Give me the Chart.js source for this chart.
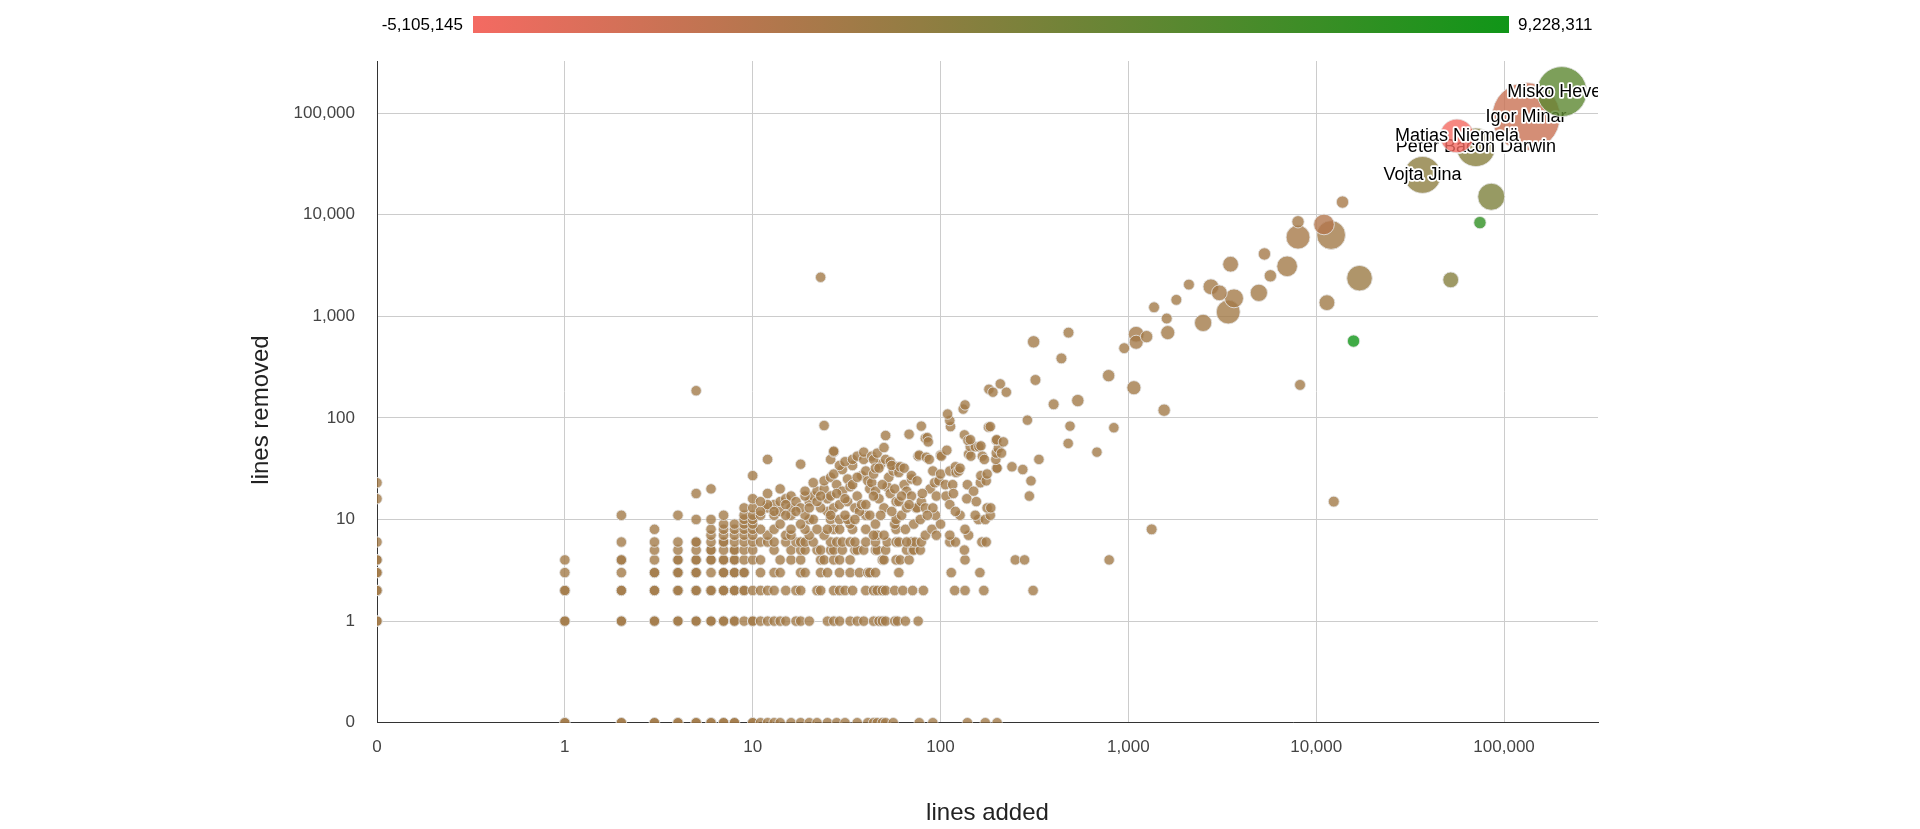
<!DOCTYPE html>
<html>
<head>
<meta charset="utf-8">
<title>lines added vs lines removed</title>
<script src="https://cdn.jsdelivr.net/npm/chart.js@4.4.1/dist/chart.umd.min.js"></script>
<style>
  html, body { margin: 0; padding: 0; background: #ffffff; }
  #wrap { width: 1920px; height: 829px; }
</style>
</head>
<body>
<div id="wrap"><canvas id="chart" width="1920" height="829"></canvas></div>
<script>
  "use strict";

  // Contributors with their own bubble size / colour (commits -> size, score -> colour)
  const contributorNames = ["Misko Hevery", "Igor Minar", "Matias Niemelä", "Peter Bacon Darwin", "Vojta Jina",
    "", "", "", "", "", "", "", "", "", "", "", "", "", "", "", "", "", "", "", "",
    "", "", "", "", "", "", "", "", "", "", "", "", "", "", "", "", "", "", "", "", "", ""];
  const contributorAdded = [203000, 131000, 56100, 70800, 36800, 85500, 74400, 52000, 15800, 13800,
    8000, 11000, 8000, 12000, 5300, 3500, 7000, 5700, 17000, 2100, 2750, 3050, 3650, 4950, 1800,
    1370, 3400, 11400, 1600, 2500, 1100, 1250, 1100, 1620, 950, 480, 313, 440, 785, 320, 1070,
    538, 400, 1550, 8200, 12400, 1330];
  const contributorRemoved = [162500, 92200, 59500, 46000, 24600, 15000, 8340, 2280, 570, 13300,
    8500, 8000, 6000, 6300, 4100, 3250, 3100, 2500, 2370, 2050, 1950, 1700, 1500, 1700, 1450,
    1225, 1100, 1360, 950, 860, 665, 630, 555, 690, 485, 690, 560, 385, 260, 236, 198,
    148, 136, 119, 211, 15, 8];
  const contributorCommits = [1030, 1500, 606, 734, 689, 434, 51, 140, 51, 51,
    51, 268, 351, 478, 51, 140, 268, 51, 395, 13, 140, 140, 223, 179, 13,
    13, 351, 140, 13, 179, 140, 51, 96, 96, 13, 13, 51, 13, 51, 13, 96,
    51, 13, 51, 13, 13, 13];
  const contributorScore = [4400000, -2400000, -5105145, 1700000, 1350000, 2350000, 7150000, 1800000, 9228311, -300000,
    -100000, -1000000, -200000, 0, -150000, -100000, 0, 0, 500000, -50000, -50000, -100000, -50000, 0, 0,
    0, 50000, 200000, 0, 0, -80000, 0, -60000, 0, 0, 0, 0, 0, 0, 0, 0,
    0, 0, 0, 0, 0, 0];

  // One-off contributors (smallest bubbles), grouped by lines removed: values are lines added
  const rowRemoved0 = [1, 1, 2, 2, 3, 3, 4, 4, 5, 5, 6, 6, 7, 7, 8, 8, 10, 10, 11, 12, 13, 14, 16, 18, 20, 22, 25, 28,
    31, 36, 41, 44, 46, 49, 51, 56, 77, 91, 139, 173, 200];
  const rowRemoved1 = [0, 0, 1, 1, 2, 2, 3, 3, 4, 4, 5, 5, 6, 6, 7, 7, 8, 8, 9, 10, 10, 11, 12, 13, 14, 15, 17, 18, 20,
    25, 27, 29, 33, 36, 39, 44, 47, 49, 51, 57, 59, 65, 76];
  const rowRemoved2 = [0, 0, 1, 1, 2, 2, 3, 3, 4, 4, 5, 5, 6, 6, 7, 7, 8, 8, 9, 9, 10, 11, 12, 13, 15, 17, 18, 22, 23,
    27, 29, 31, 34, 40, 44, 46, 49, 51, 57, 63, 71, 81, 119, 135, 170, 311];
  const rowRemoved3 = [0, 0, 1, 2, 3, 3, 4, 4, 5, 5, 6, 7, 7, 8, 8, 9, 9, 11, 13, 14, 18, 19, 23, 25, 29, 33, 37, 41,
    42, 45, 60, 114, 162];
  const rowRemoved4 = [0, 0, 1, 2, 2, 3, 4, 4, 5, 5, 6, 6, 7, 7, 8, 8, 9, 10, 11, 14, 16, 18, 23, 24, 27, 29, 33, 49,
    50, 58, 61, 68, 135, 250, 280, 790];
  const rowRemoved5 = [3, 4, 5, 6, 6, 7, 8, 8, 9, 10, 13, 16, 18, 19, 22, 23, 26, 27, 30, 35, 36, 39, 45, 46, 51, 66,
    71, 72, 78, 134];
  const rowRemoved6 = [0, 2, 3, 4, 5, 5, 6, 7, 7, 8, 9, 10, 11, 12, 13, 15, 17, 18, 19, 21, 26, 28, 30, 33, 35, 40,
    45, 52, 58, 60, 70, 73, 79, 112, 120, 166, 175];
  const rowRemoved7 = [6, 7, 8, 9, 10, 12, 15, 16, 20, 24, 46, 50, 83, 112, 141];
  const rowRemoved8 = [3, 6, 7, 8, 9, 10, 11, 13, 16, 19, 22, 27, 29, 34, 40, 58, 65, 90, 135];
  const rowRemoved9 = [7, 8, 9, 10, 14, 33, 45, 57, 72, 100];
  const rowRemoved10 = [5, 6, 9, 10, 20, 21, 26, 29, 32, 58, 78, 159, 173];
  const rowRemoved11 = [2, 4, 7, 9, 10, 11, 13, 16, 19, 31, 40, 42, 62, 94, 127, 153, 184];
  const removedRows = [rowRemoved0, rowRemoved1, rowRemoved2, rowRemoved3, rowRemoved4, rowRemoved5,
    rowRemoved6, rowRemoved7, rowRemoved8, rowRemoved9, rowRemoved10, rowRemoved11];

  // Remaining one-off contributors as [lines added, lines removed]
  const scatterPoints = [
    [0, 16], [0, 23], [5, 18], [6, 20], [10, 27], [12, 39], [18, 35], [5, 185], [23, 2420], [24, 84],
    [9, 13], [10, 13], [10, 16], [12, 13], [13, 14], [14, 12], [14, 15], [15, 16], [16, 13], [16, 17],
    [11, 12], [12, 14], [13, 12], [15, 14], [17, 15], [18, 13], [20, 15], [21, 17], [22, 19], [24, 20],
    [25, 16], [25, 12], [19, 17], [19, 19], [21, 23], [23, 13], [24, 24], [26, 17], [26, 26], [27, 13],
    [27, 28], [28, 22], [29, 14], [30, 19], [30, 31], [32, 15], [32, 25], [33, 21], [34, 34], [35, 13],
    [36, 17], [37, 12], [38, 14], [38, 27], [40, 30], [41, 24], [42, 20], [43, 23], [44, 28], [45, 19],
    [47, 16], [48, 35], [52, 21], [53, 26], [54, 18], [56, 30], [58, 15], [58, 33], [60, 15], [64, 22],
    [66, 13], [66, 19], [70, 17], [70, 25], [70, 27], [74, 13], [75, 13], [75, 24], [79, 15], [83, 13],
    [88, 20], [91, 13], [91, 30], [93, 23], [95, 17], [98, 24], [100, 28], [106, 22], [107, 17], [112, 14],
    [112, 30], [116, 22], [117, 18], [120, 12], [120, 33], [121, 29], [125, 30], [127, 32], [138, 16],
    [139, 22], [150, 19], [155, 15], [163, 23], [164, 27], [175, 24], [177, 13], [177, 28], [185, 13],
    [199, 32], [200, 32], [240, 33], [274, 31], [297, 17], [303, 24],
    [11, 15], [12, 18], [14, 20], [15, 11], [17, 12], [20, 13], [22, 15], [23, 17], [28, 18], [31, 16],
    [34, 22], [36, 26], [40, 14], [44, 17], [49, 22], [50, 13], [57, 20], [62, 17], [68, 14], [80, 18],
    [26, 11], [35, 10], [48, 11], [55, 12], [85, 11], [18, 9], [25, 8], [44, 7], [66, 6], [95, 7],
    [26, 39], [27, 46], [27, 47], [29, 34], [31, 37], [34, 39], [36, 42], [39, 39], [39, 46], [43, 42],
    [44, 39], [45, 32], [46, 45], [47, 32], [50, 51], [51, 39], [54, 37], [55, 34], [60, 29], [61, 33],
    [64, 32], [76, 42], [77, 43], [84, 41], [87, 39], [100, 43], [101, 42], [108, 48], [141, 44],
    [144, 52], [145, 42], [153, 52], [160, 52], [164, 53], [167, 42], [171, 39], [197, 39], [198, 45],
    [203, 50], [211, 45], [334, 39], [478, 56], [680, 46],
    [51, 67], [68, 69], [79, 83], [83, 63], [85, 64], [86, 58], [134, 68], [140, 60], [144, 61],
    [198, 60], [199, 61], [216, 58], [113, 82], [112, 94], [180, 81], [184, 82], [109, 109], [132, 122],
    [135, 134], [181, 191], [190, 179], [208, 216], [224, 179], [290, 95], [489, 83], [837, 80]
  ];

  // Axis / colour-axis settings
  const ZERO_AT = 0.1;                       // where the "0" tick sits on the log axes
  const tickValues = [ZERO_AT, 1, 10, 100, 1000, 10000, 100000];
  const X_MAX = 316228;
  const Y_MAX = 325000;
  const scoreMin = -5105145;
  const scoreMax = 9228311;
  const lowColor = [244, 106, 98];
  const highColor = [16, 150, 24];
  const MINOR_COMMITS = 1;
  const MINOR_SCORE = 0;
  const commitsMax = 1500;
  const MIN_R = 5.2;
  const MAX_R = 34;

  const FONT = "'Liberation Sans', Arial, sans-serif";

  function toAxis(v) {
    return v === 0 ? ZERO_AT : v;
  }

  function radiusFor(commits) {
    return MIN_R + (MAX_R - MIN_R) * (commits - MINOR_COMMITS) / (commitsMax - MINOR_COMMITS);
  }

  function scoreColor(score, alpha) {
    const t = (score - scoreMin) / (scoreMax - scoreMin);
    const c = lowColor.map((l, i) => Math.round(l + (highColor[i] - l) * t));
    return "rgba(" + c[0] + ", " + c[1] + ", " + c[2] + ", " + alpha + ")";
  }

  function formatTick(value) {
    return value < 1 ? "0" : Number(value).toLocaleString("en-US");
  }

  // Build the bubbles: named people get their own dataset so their label is drawn right after them
  const namedDatasets = [];
  const others = [];
  contributorAdded.forEach((added, i) => {
    const point = {
      x: toAxis(added),
      y: toAxis(contributorRemoved[i]),
      r: radiusFor(contributorCommits[i]),
      color: scoreColor(contributorScore[i], 0.8),
    };
    if (contributorNames[i]) {
      namedDatasets.push({ name: contributorNames[i], commits: contributorCommits[i], point: point });
    } else {
      others.push(point);
    }
  });
  removedRows.forEach((row, removed) => {
    row.forEach((added) => {
      others.push({ x: toAxis(added), y: toAxis(removed), r: radiusFor(MINOR_COMMITS), color: scoreColor(MINOR_SCORE, 0.8) });
    });
  });
  scatterPoints.forEach((p) => {
    others.push({ x: toAxis(p[0]), y: toAxis(p[1]), r: radiusFor(MINOR_COMMITS), color: scoreColor(MINOR_SCORE, 0.8) });
  });
  // bigger bubbles underneath
  others.sort((a, b) => b.r - a.r);
  namedDatasets.sort((a, b) => a.commits - b.commits);

  const bubbleStyle = {
    borderColor: "rgba(228, 228, 228, 0.85)",
    borderWidth: 1,
    clip: 0,
  };

  const datasets = [
    Object.assign({
      label: "others",
      order: 0,
      data: others.map((p) => ({ x: p.x, y: p.y, r: p.r })),
      backgroundColor: others.map((p) => p.color),
    }, bubbleStyle),
  ];
  namedDatasets.forEach((n, i) => {
    datasets.push(Object.assign({
      label: n.name,
      personName: n.name,
      order: i + 1,
      data: [{ x: n.point.x, y: n.point.y, r: n.point.r }],
      backgroundColor: [n.point.color],
    }, bubbleStyle));
  });

  // Names, colour bar and axis titles
  const overlayPlugin = {
    id: "overlay",
    afterDatasetDraw(chart, args) {
      const ds = chart.data.datasets[args.index];
      if (!ds.personName) return;
      const { ctx, chartArea, scales } = chart;
      const px = scales.x.getPixelForValue(ds.data[0].x);
      const py = scales.y.getPixelForValue(ds.data[0].y);
      ctx.save();
      ctx.beginPath();
      ctx.rect(chartArea.left, chartArea.top, chartArea.right - chartArea.left, chartArea.bottom - chartArea.top);
      ctx.clip();
      ctx.font = "18px " + FONT;
      ctx.textAlign = "center";
      ctx.textBaseline = "middle";
      ctx.lineJoin = "round";
      ctx.lineWidth = 3.5;
      ctx.strokeStyle = "#ffffff";
      ctx.strokeText(ds.personName, px, py);
      ctx.fillStyle = "#000000";
      ctx.fillText(ds.personName, px, py);
      ctx.restore();
    },
    afterDraw(chart) {
      const { ctx, chartArea } = chart;
      ctx.save();

      // colour axis
      const barLeft = 473, barRight = 1509, barTop = 16, barHeight = 17;
      const grad = ctx.createLinearGradient(barLeft, 0, barRight, 0);
      grad.addColorStop(0, scoreColor(scoreMin, 1));
      grad.addColorStop(1, scoreColor(scoreMax, 1));
      ctx.fillStyle = grad;
      ctx.fillRect(barLeft, barTop, barRight - barLeft, barHeight);
      ctx.font = "17px " + FONT;
      ctx.fillStyle = "#000000";
      ctx.textBaseline = "middle";
      ctx.textAlign = "right";
      ctx.fillText(scoreMin.toLocaleString("en-US"), barLeft - 10, barTop + barHeight / 2 + 1);
      ctx.textAlign = "left";
      ctx.fillText(scoreMax.toLocaleString("en-US"), barRight + 9, barTop + barHeight / 2 + 1);

      // axis titles
      ctx.font = "24px " + FONT;
      ctx.fillStyle = "#222222";
      ctx.textAlign = "center";
      ctx.fillText("lines added", (chartArea.left + chartArea.right) / 2, 813);
      ctx.translate(261, 410);
      ctx.rotate(-Math.PI / 2);
      ctx.fillText("lines removed", 0, 0);
      ctx.restore();
    },
  };

  const tickFont = { family: FONT, size: 17 };

  new Chart(document.getElementById("chart"), {
    type: "bubble",
    data: { datasets: datasets },
    plugins: [overlayPlugin],
    options: {
      responsive: false,
      animation: false,
      events: [],
      devicePixelRatio: 1,
      layout: { padding: { left: 0, right: 322, top: 61, bottom: 0 } },
      plugins: {
        legend: { display: false },
        tooltip: { enabled: false },
      },
      scales: {
        x: {
          type: "logarithmic",
          min: ZERO_AT,
          max: X_MAX,
          afterBuildTicks: (scale) => {
            scale.ticks = tickValues.map((v) => ({ value: v }));
          },
          afterFit: (scale) => {
            scale.height = 829 - 722.7;
            scale.paddingLeft = 0;
            scale.paddingRight = 0;
          },
          ticks: {
            callback: formatTick,
            autoSkip: false,
            maxRotation: 0,
            padding: 14,
            color: "#444444",
            font: tickFont,
          },
          grid: { color: "#cccccc", drawTicks: false },
          border: { color: "#333333", width: 1 },
        },
        y: {
          type: "logarithmic",
          min: ZERO_AT,
          max: Y_MAX,
          afterBuildTicks: (scale) => {
            scale.ticks = tickValues.map((v) => ({ value: v }));
          },
          afterFit: (scale) => {
            scale.width = 377;
            scale.paddingTop = 0;
            scale.paddingBottom = 0;
          },
          ticks: {
            callback: formatTick,
            autoSkip: false,
            padding: 22,
            color: "#444444",
            font: tickFont,
          },
          grid: { color: "#cccccc", drawTicks: false },
          border: { color: "#333333", width: 1 },
        },
      },
    },
  });
</script>
</body>
</html>
